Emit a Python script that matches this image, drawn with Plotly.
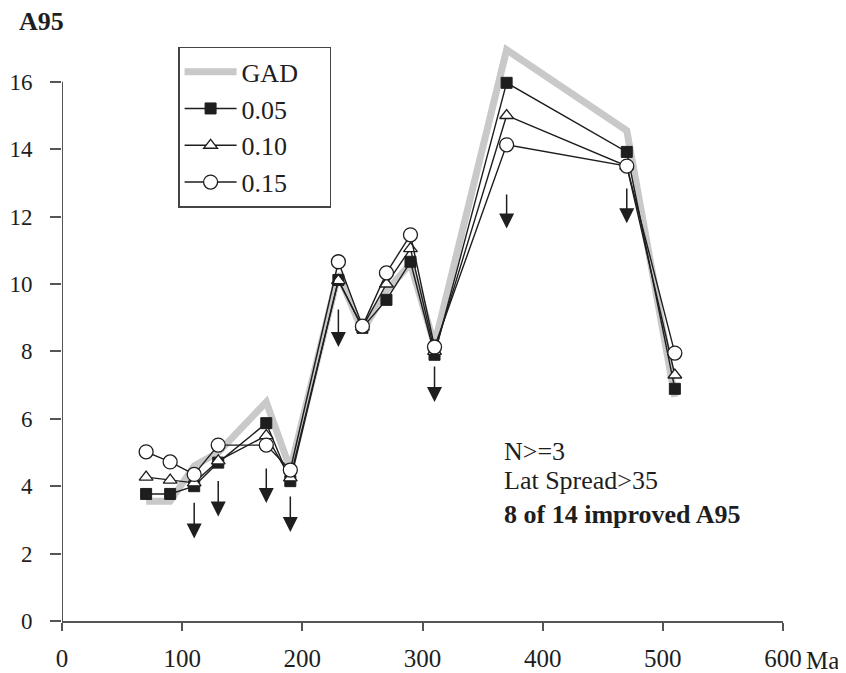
import plotly.graph_objects as go

ages = [70, 90, 110, 130, 170, 190, 230, 250, 270, 290, 310, 370, 470, 510]
gad = [3.55, 3.55, 4.6, 5.0, 6.5, 4.5, 10.3, 8.6, 9.8, 10.6, 8.2, 16.95, 14.55, 6.65]
a05 = [3.77, 3.77, 4.0, 4.7, 5.87, 4.15, 10.12, 8.7, 9.53, 10.66, 7.9, 15.97, 13.92, 6.89]
a10 = [4.27, 4.18, 4.1, 4.75, 5.5, 4.25, 10.1, 8.72, 10.0, 11.05, 8.0, 15.0, 13.5, 7.3]
a15 = [5.02, 4.72, 4.35, 5.22, 5.22, 4.48, 10.66, 8.75, 10.33, 11.46, 8.13, 14.13, 13.5, 7.95]

arrow_x = [110, 130, 170, 190, 230, 310, 370, 470]
arrow_top = [3.55, 4.2, 4.57, 3.74, 9.29, 7.6, 12.7, 12.88]
arrow_tip = [2.45, 3.1, 3.5, 2.64, 8.13, 6.5, 11.65, 11.8]

x_ticks = [0, 100, 200, 300, 400, 500, 600]
y_ticks = [0, 2, 4, 6, 8, 10, 12, 14, 16]

note_lines = ["N>=3", "Lat Spread>35", "<b>8 of 14 improved A95</b>"]
note_y = [5.02, 4.16, 3.15]

FONT = "Liberation Serif"
INK = "#1e1e1e"
PAD = "\u00a0" * 4

fig = go.Figure()
fig.add_trace(go.Scatter(x=ages, y=gad, mode="lines", name="GAD" + PAD,
                         line=dict(color="#c9c9c9", width=7), legendgroup="g1"))
fig.add_trace(go.Scatter(x=ages, y=a05, mode="lines+markers", name="0.05",
                         line=dict(color=INK, width=1.4),
                         marker=dict(symbol="square", size=11, color=INK,
                                     line=dict(color=INK, width=1)), legendgroup="g2"))
fig.add_trace(go.Scatter(x=ages, y=a10, mode="lines+markers", name="0.10",
                         line=dict(color=INK, width=1.4),
                         marker=dict(symbol="triangle-up", size=12, color="white",
                                     line=dict(color=INK, width=1.3)), legendgroup="g3"))
fig.add_trace(go.Scatter(x=ages, y=a15, mode="lines+markers", name="0.15",
                         line=dict(color=INK, width=1.4),
                         marker=dict(symbol="circle", size=14, color="white",
                                     line=dict(color=INK, width=1.3)), legendgroup="g4"))

for xa, yt, yb in zip(arrow_x, arrow_top, arrow_tip):
    fig.add_annotation(x=xa, y=yb, ax=xa, ay=yt, xref="x", yref="y",
                       axref="x", ayref="y", showarrow=True, arrowhead=2,
                       arrowsize=2.0, arrowwidth=1.5, arrowcolor=INK, text="")

# y axis line only up to 16
fig.add_shape(type="line", xref="x", yref="y", x0=0, x1=0, y0=0, y1=16,
              line=dict(color="#555", width=2))

fig.add_annotation(text="<b>A95</b>", xref="paper", yref="paper", x=-0.0624, y=1.029,
                   xanchor="left", yanchor="middle", showarrow=False,
                   font=dict(family=FONT, size=26, color=INK))
fig.add_annotation(text="Ma", xref="x", yref="paper", x=600, y=-0.0686,
                   xanchor="left", yanchor="middle", xshift=21, showarrow=False,
                   font=dict(family=FONT, size=25, color=INK))
for txt, yy in zip(note_lines, note_y):
    fig.add_annotation(text=txt, xref="x", yref="y", x=366, y=yy,
                       xanchor="left", yanchor="middle", align="left",
                       showarrow=False, font=dict(family=FONT, size=26, color=INK))

fig.update_layout(
    width=838, height=665,
    margin=dict(l=54, r=63, t=30, b=52),
    paper_bgcolor="white", plot_bgcolor="white",
    font=dict(family=FONT, size=23, color=INK),
    showlegend=True,
    legend=dict(x=0.161, y=0.985, xanchor="left", yanchor="top",
                bordercolor="#444", borderwidth=1.5, bgcolor="white",
                font=dict(family=FONT, size=26, color=INK),
                tracegroupgap=0, itemwidth=52),
    xaxis=dict(range=[0, 600], tickvals=x_ticks, ticks="outside", ticklen=8,
               tickcolor="#555", tickwidth=2, showline=True, linecolor="#555",
               linewidth=2, showgrid=False, zeroline=False, automargin=False,
               ticklabelstandoff=6,
               tickfont=dict(family=FONT, size=25, color=INK)),
    yaxis=dict(range=[0, 17.3], tickvals=y_ticks, ticks="outside", ticklen=11,
               tickcolor="#555", tickwidth=2, showline=False, showgrid=False,
               zeroline=False, ticklabelstandoff=13, automargin=False,
               tickfont=dict(family=FONT, size=23, color=INK)),
)

fig.write_html("out.html")
